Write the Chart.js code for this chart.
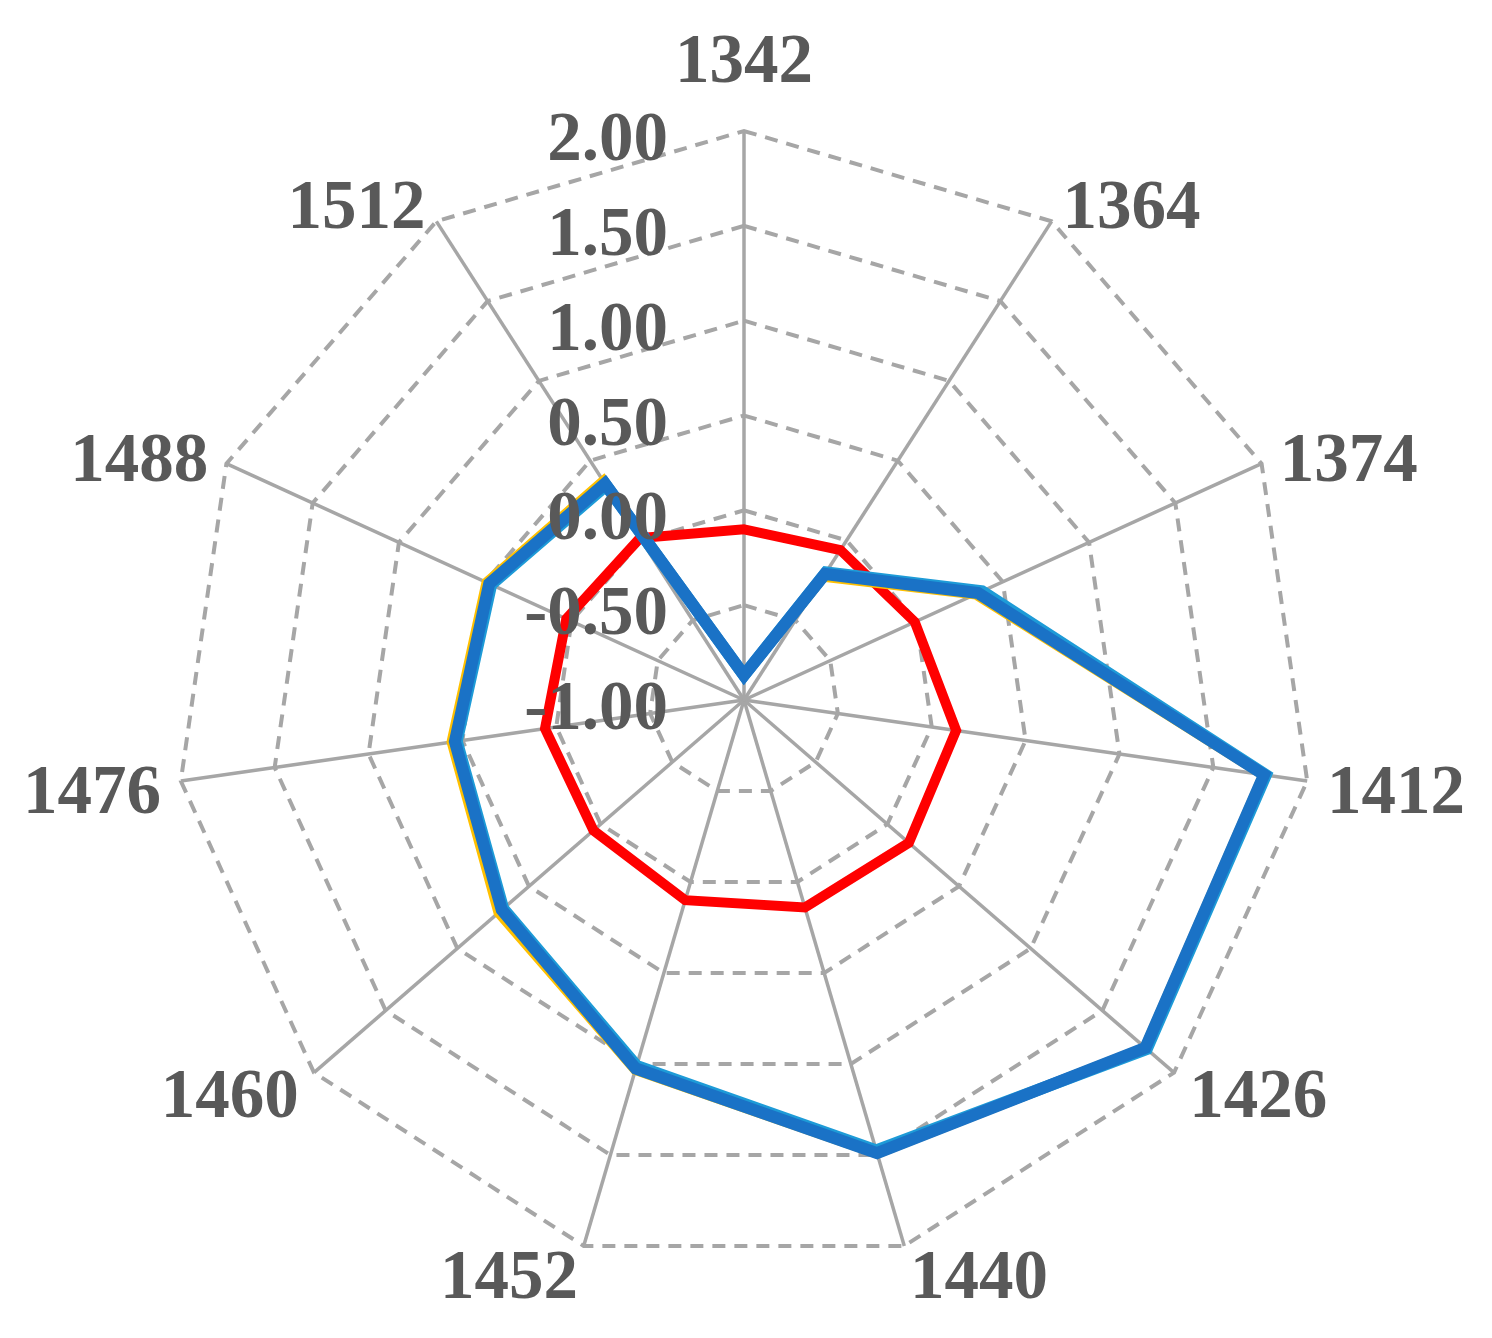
<!DOCTYPE html>
<html><head><meta charset="utf-8">
<script src="https://cdn.jsdelivr.net/npm/chart.js@4.4.1/dist/chart.umd.min.js"></script>
<style>html,body{margin:0;padding:0;background:#fff;} #wrap{width:1492px;height:1338px;position:relative;}</style>
</head><body><div id="wrap"><canvas id="c"></canvas></div>
<script>
const categories = ['1342','1364','1374','1412','1426','1440','1452','1460','1476','1488','1512'];
const seriesRed = [-0.10, -0.06, -0.01, 0.13, 0.15, 0.14, 0.10, 0.05, 0.06, 0.03, 0.015];
const seriesYellow = [-0.87, -0.225, 0.345, 1.77, 1.80, 1.49, 1.03, 0.71, 0.555, 0.49, 0.37];
const seriesLightBlue = [-0.87, -0.20, 0.38, 1.78, 1.81, 1.475, 1.01, 0.68, 0.53, 0.465, 0.345];
const seriesDarkBlue = [-0.87, -0.21, 0.357, 1.77, 1.80, 1.49, 1.025, 0.69, 0.54, 0.477, 0.356];
const tickValues = [-1, -0.5, 0, 0.5, 1, 1.5, 2];
const tickLabels = ['-1.00', '-0.50', '0.00', '0.50', '1.00', '1.50', '2.00'];

const TEXT = '#595959';
const GRID = '#A6A6A6';
const FONT = 'bold 69px "Liberation Serif", "Times New Roman", serif';

const labelPlugin = {
  id: 'customLabels',
  afterDatasetsDraw(chart) {
    const s = chart.scales.r;
    const ctx = chart.ctx;
    ctx.save();
    ctx.fillStyle = TEXT;
    ctx.font = FONT;
    ctx.textBaseline = 'alphabetic';
    const half = 23;
    ctx.textAlign = 'right';
    tickValues.forEach((v, i) => {
      const d = s.getDistanceFromCenterForValue(v);
      ctx.fillText(tickLabels[i], s.xCenter - 76, s.yCenter - d + 6 + half);
    });
    categories.forEach((lab, i) => {
      const p = s.getPointPosition(i, s.drawingArea);
      const th = p.angle + Math.PI / 2;
      const sn = Math.sin(th), cs = Math.cos(th);
      let x, y;
      if (Math.abs(sn) < 1e-6) {
        ctx.textAlign = 'center'; x = p.x; y = p.y - 72;
      } else {
        ctx.textAlign = sn > 0 ? 'left' : 'right';
        x = p.x + 20 * sn;
        y = p.y - cs * 25 + 5;
      }
      ctx.fillText(lab, x, y + half);
    });
    ctx.restore();
  }
};

function ds(label, data, color, width, order) {
  return { label, data, borderColor: color, backgroundColor: 'transparent', fill: false,
    borderWidth: width, pointRadius: 0, pointHoverRadius: 0, tension: 0, order };
}

new Chart(document.getElementById('c'), {
  type: 'radar',
  data: {
    labels: categories,
    datasets: [
      ds('Series 4', seriesDarkBlue, '#1A72C6', 12, 1),
      ds('Series 3', seriesLightBlue, '#1E9BD7', 12, 2),
      ds('Series 2', seriesYellow, '#FFC000', 11, 3),
      ds('Series 1', seriesRed, '#FF0000', 10, 4)
    ]
  },
  options: {
    responsive: true,
    maintainAspectRatio: false,
    animation: false,
    layout: { padding: { left: 175, right: 179, top: 131, bottom: 69 } },
    plugins: { legend: { display: false }, tooltip: { enabled: false } },
    scales: {
      r: {
        min: -1, max: 2,
        ticks: { stepSize: 0.5, display: false },
        pointLabels: { display: false },
        grid: { color: GRID, lineWidth: 4 },
        border: { dash: [13, 9] },
        angleLines: { color: GRID, lineWidth: 3.5 }
      }
    }
  },
  plugins: [labelPlugin]
});
</script></body></html>
